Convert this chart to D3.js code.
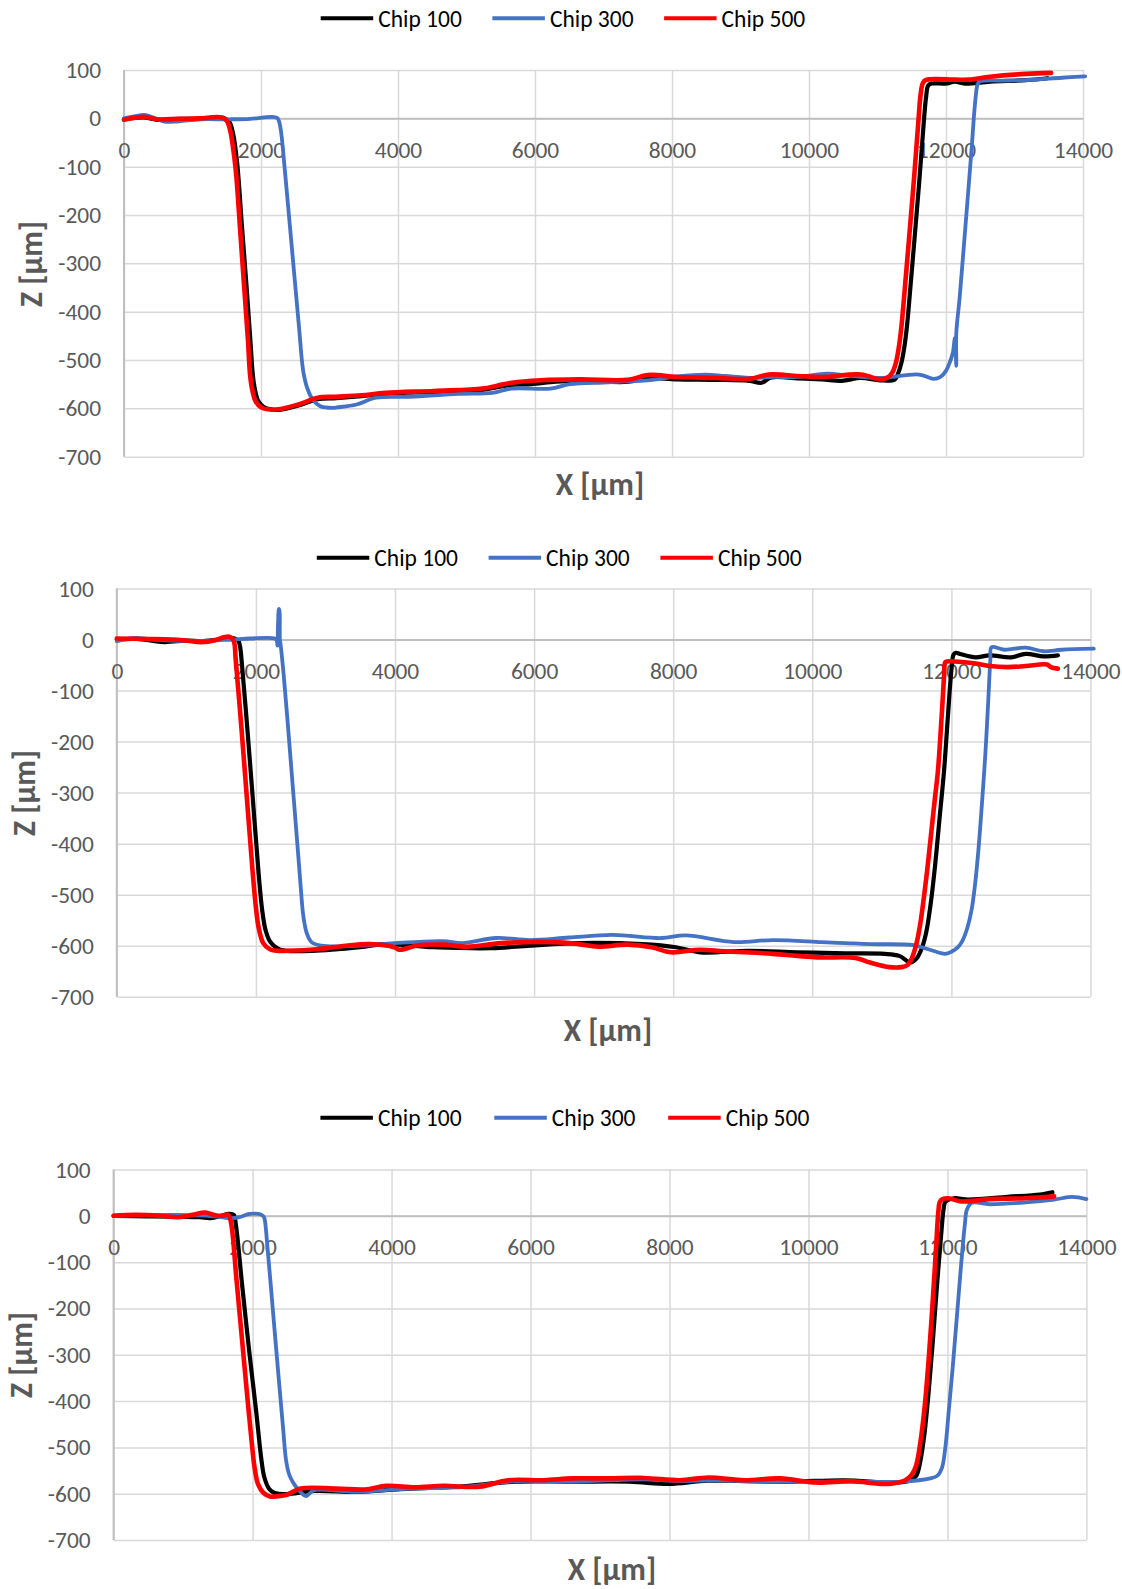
<!DOCTYPE html>
<html>
<head>
<meta charset="utf-8">
<script src="https://cdn.jsdelivr.net/npm/d3@7"></script>
<style>
  body { margin: 0; background: #fff; }
  svg { display: block; }
  text { font-family: Calibri, Carlito, Lato, "Open Sans", sans-serif; }
</style>
</head>
<body>
<svg id="fig" width="1122" height="1589"></svg>
<script>
// Series definitions
const seriesNames = ["Chip 100", "Chip 300", "Chip 500"];
const seriesColors = ["#000000", "#4472C4", "#FF0000"];
const xTicks = [0, 2000, 4000, 6000, 8000, 10000, 12000, 14000];
const yTicks = [100, 0, -100, -200, -300, -400, -500, -600, -700];
const xTitle = "X [µm]";
const yTitle = "Z [µm]";

// Profile 1 — [x µm, z µm]
const p1_chip100 = [[0,-2],[280,2],[480,-3],[800,-1],[1100,-1],[1450,1],[1540,-8],[1590,-30],[1650,-90],[1720,-220],[1790,-350],[1850,-470],[1880,-530],[1910,-560],[1960,-585],[2040,-597],[2150,-602],[2270,-603],[2545,-594],[2828,-581],[3100,-579],[3466,-575],[3820,-570],[4528,-566],[5236,-562],[5450,-556],[5700,-551],[5944,-550],[6300,-545],[6651,-543],[7360,-545],[7643,-537],[8068,-540],[8634,-541],[9130,-543],[9306,-547],[9450,-536],[9838,-538],[10192,-540],[10475,-543],[10758,-537],[11041,-542],[11254,-540],[11300,-528],[11350,-505],[11390,-475],[11430,-430],[11480,-350],[11540,-250],[11610,-130],[11680,0],[11710,45],[11740,68],[11790,72],[12016,72],[12121,76],[12278,72],[12644,76],[13168,79],[13482,83]];
const p1_chip300 = [[0,0],[150,4],[300,7],[420,2],[590,-7],[800,-6],[1113,-2],[1530,-2],[1843,-1],[2156,3],[2234,1],[2260,-5],[2290,-25],[2350,-110],[2420,-220],[2490,-330],[2560,-440],[2600,-505],[2625,-530],[2680,-560],[2760,-583],[2860,-595],[2938,-598],[3050,-599],[3112,-598],[3395,-592],[3678,-578],[4174,-576],[4882,-570],[5377,-568],[5660,-559],[6226,-559],[6510,-550],[7077,-546],[7714,-541],[8068,-534],[8493,-530],[8776,-533],[9200,-537],[9483,-535],[9838,-535],[10263,-528],[10617,-533],[11041,-537],[11607,-530],[11820,-539],[11920,-535],[11997,-523],[12060,-503],[12100,-485],[12130,-455],[12150,-512],[12150,-445],[12200,-370],[12280,-230],[12370,-70],[12430,40],[12461,70],[12490,76],[12906,78],[13168,79],[13692,84],[14032,87]];
const p1_chip500 = [[0,-3],[280,3],[480,-2],[800,-1],[1100,0],[1420,2],[1500,-5],[1550,-25],[1610,-80],[1640,-120],[1700,-240],[1760,-360],[1810,-460],[1840,-530],[1870,-560],[1920,-585],[2000,-598],[2100,-602],[2262,-602],[2545,-592],[2828,-578],[3100,-576],[3466,-573],[3820,-568],[4528,-564],[5236,-559],[5450,-553],[5660,-547],[6085,-542],[6651,-540],[7360,-541],[7643,-531],[8068,-535],[8634,-537],[9130,-539],[9413,-530],[9838,-533],[10192,-535],[10758,-530],[11041,-540],[11150,-536],[11220,-525],[11270,-505],[11310,-475],[11350,-430],[11400,-350],[11460,-250],[11530,-130],[11600,0],[11630,50],[11660,72],[11700,79],[12121,80],[12330,80],[12644,86],[13168,92],[13534,94]];

// Profile 2
const p2_chip100 = [[0,0],[300,1],[682,-5],[1000,-2],[1220,-3],[1450,0],[1650,3],[1740,-1],[1770,-12],[1800,-50],[1880,-180],[1960,-320],[2040,-460],[2090,-530],[2140,-570],[2209,-593],[2349,-608],[2803,-610],[3500,-603],[3849,-597],[4547,-603],[5385,-605],[5944,-600],[6642,-595],[7549,-597],[8038,-603],[8387,-613],[9085,-610],[9783,-613],[10482,-615],[11040,-616],[11250,-620],[11414,-633],[11500,-625],[11560,-610],[11633,-577],[11700,-520],[11760,-450],[11830,-350],[11895,-256],[11950,-150],[12000,-60],[12030,-30],[12062,-26],[12140,-29],[12346,-35],[12552,-31],[12861,-35],[13067,-28],[13325,-33],[13531,-31]];
const p2_chip300 = [[0,-3],[272,3],[528,0],[1144,-3],[1656,0],[1913,2],[2272,2],[2300,-2],[2310,-12],[2318,30],[2330,60],[2340,55],[2345,0],[2355,-10],[2400,-70],[2470,-185],[2540,-305],[2610,-425],[2650,-495],[2680,-540],[2730,-575],[2800,-593],[2942,-600],[3500,-600],[3989,-595],[4687,-591],[4966,-595],[5455,-585],[5944,-589],[6502,-584],[7130,-579],[7828,-585],[8178,-580],[8875,-593],[9434,-589],[10133,-593],[10482,-595],[10831,-597],[11458,-599],[11668,-607],[11909,-616],[12000,-612],[12087,-604],[12160,-590],[12230,-565],[12290,-530],[12340,-480],[12390,-410],[12440,-320],[12490,-220],[12530,-120],[12560,-40],[12578,-15],[12758,-20],[13067,-16],[13325,-23],[13583,-20],[14047,-18]];
const p2_chip500 = [[0,2],[374,1],[785,0],[990,-2],[1220,-5],[1400,-2],[1554,5],[1631,5],[1682,-3],[1710,-40],[1790,-170],[1870,-310],[1950,-450],[2000,-525],[2040,-565],[2105,-595],[2200,-607],[2300,-610],[2454,-610],[2873,-607],[3291,-600],[3640,-597],[3989,-603],[4059,-608],[4338,-599],[4687,-598],[5036,-602],[5525,-595],[6293,-593],[6642,-597],[6921,-602],[7340,-598],[7689,-603],[7968,-613],[8387,-608],[8736,-611],[9434,-616],[9783,-620],[10133,-623],[10622,-624],[10831,-633],[11109,-642],[11284,-642],[11370,-638],[11430,-625],[11490,-600],[11549,-560],[11600,-510],[11652,-452],[11755,-321],[11806,-258],[11860,-150],[11895,-70],[11910,-45],[11935,-43],[12294,-46],[12552,-52],[12810,-54],[13067,-52],[13376,-49],[13428,-54],[13531,-57]];

// Profile 3
const p3_chip100 = [[0,0],[500,-1],[933,-2],[1241,-3],[1395,-5],[1550,0],[1651,4],[1728,2],[1760,-20],[1850,-150],[1950,-290],[2050,-420],[2130,-530],[2170,-565],[2240,-590],[2309,-598],[2484,-601],[2896,-594],[3514,-596],[4132,-590],[4956,-585],[5780,-574],[6604,-574],[7428,-574],[7995,-579],[8561,-572],[9694,-574],[10518,-571],[11239,-576],[11450,-572],[11548,-562],[11610,-530],[11670,-470],[11730,-380],[11790,-270],[11850,-150],[11910,-40],[11945,15],[11970,30],[12093,38],[12299,35],[12866,41],[13330,46],[13511,51]];
const p3_chip300 = [[0,0],[933,2],[1446,-1],[1703,-5],[1805,-3],[1959,4],[2087,4],[2150,0],[2170,-5],[2210,-60],[2290,-200],[2370,-340],[2440,-460],[2484,-530],[2530,-560],[2600,-580],[2700,-598],[2773,-605],[2830,-598],[2896,-592],[3514,-596],[4132,-590],[5059,-585],[5780,-573],[6604,-574],[7634,-569],[8149,-573],[8664,-571],[9179,-574],[9900,-574],[10724,-574],[11342,-574],[11754,-567],[11857,-561],[11920,-545],[11970,-500],[12020,-420],[12080,-320],[12140,-210],[12200,-100],[12250,-20],[12280,13],[12351,28],[12609,25],[13124,29],[13536,35],[13794,41],[14000,36]];
const p3_chip500 = [[0,0],[318,2],[677,0],[933,-3],[1138,2],[1318,7],[1446,2],[1549,0],[1651,2],[1690,-15],[1770,-140],[1850,-270],[1930,-400],[1995,-500],[2030,-545],[2080,-580],[2155,-598],[2250,-606],[2330,-606],[2484,-603],[2690,-589],[3205,-589],[3617,-591],[3926,-583],[4338,-586],[4750,-583],[5265,-585],[5677,-571],[6192,-571],[6604,-567],[7119,-567],[7634,-566],[8149,-571],[8561,-565],[9076,-571],[9591,-567],[10106,-576],[10621,-573],[11136,-579],[11393,-571],[11480,-560],[11548,-540],[11610,-490],[11672,-413],[11730,-310],[11790,-180],[11840,-60],[11870,10],[11890,30],[11930,36],[12016,38],[12196,31],[12609,36],[13124,38],[13536,42]];

// Panel placement on the page
const panels = [
  { series: [p1_chip100, p1_chip300, p1_chip500],
    left: 124, right: 1083, top: 70, bottom: 456.7,
    legendY: 18.3, legendX: 320.7, legendStep: 171.7,
    xTitlePos: [600, 484.5], yTitlePos: [32, 264] },
  { series: [p2_chip100, p2_chip300, p2_chip500],
    left: 116.8, right: 1090.5, top: 588.5, bottom: 996.7,
    legendY: 557.7, legendX: 316.8, legendStep: 171.8,
    xTitlePos: [608, 1031], yTitlePos: [25, 793] },
  { series: [p3_chip100, p3_chip300, p3_chip500],
    left: 113.6, right: 1086.4, top: 1169.5, bottom: 1540,
    legendY: 1117.7, legendX: 320.4, legendStep: 173.9,
    xTitlePos: [612, 1570], yTitlePos: [22, 1355] }
];

const svg = d3.select("#fig");
const widths = [4.2, 3.8, 4.6];
const tickFont = "Calibri, Carlito, Lato, sans-serif";

panels.forEach(p => {
  const g = svg.append("g");
  const x = d3.scaleLinear().domain([0, 14000]).range([p.left, p.right]);
  const y = d3.scaleLinear().domain([-700, 100]).range([p.bottom, p.top]);

  // vertical gridlines
  g.append("g")
    .attr("transform", `translate(0,${p.bottom})`)
    .call(d3.axisBottom(x).tickValues(xTicks).tickSize(-(p.bottom - p.top)).tickFormat(""))
    .call(a => a.select(".domain").remove())
    .call(a => a.selectAll("line").attr("stroke", "#d9d9d9").attr("stroke-width", 1.5));

  // horizontal gridlines + z labels
  g.append("g")
    .attr("transform", `translate(${p.left},0)`)
    .call(d3.axisLeft(y).tickValues(yTicks).tickSize(-(p.right - p.left)).tickPadding(23)
      .tickFormat(d => String(d)))
    .call(a => a.select(".domain").remove())
    .call(a => a.selectAll("line").attr("stroke", "#d9d9d9").attr("stroke-width", 1.5))
    .call(a => a.selectAll("text")
      .attr("fill", "#595959").attr("font-size", 23.4)
      .attr("dy", "0.32em")
      .style("font-family", tickFont));

  // vertical axis line at x = 0
  g.append("line")
    .attr("x1", x(0)).attr("x2", x(0)).attr("y1", p.top).attr("y2", p.bottom)
    .attr("stroke", "#bfbfbf").attr("stroke-width", 2);

  // horizontal axis through z = 0 with x labels
  g.append("g")
    .attr("transform", `translate(0,${y(0)})`)
    .call(d3.axisBottom(x).tickValues(xTicks).tickSize(0).tickSizeOuter(0).tickPadding(23)
      .tickFormat(d => String(d)))
    .call(a => a.select(".domain").attr("stroke", "#bfbfbf").attr("stroke-width", 2))
    .call(a => a.selectAll("text")
      .attr("fill", "#595959").attr("font-size", 23.4)
      .style("font-family", tickFont));

  // profiles
  const line = d3.line()
    .x(d => x(d[0])).y(d => y(d[1]))
    .curve(d3.curveCatmullRom.alpha(0.5));
  p.series.forEach((s, i) => {
    g.append("path")
      .datum(s)
      .attr("d", line)
      .attr("fill", "none")
      .attr("stroke", seriesColors[i])
      .attr("stroke-width", widths[i])
      .attr("stroke-linejoin", "round")
      .attr("stroke-linecap", "round");
  });

  // legend
  const lg = g.append("g");
  seriesNames.forEach((name, i) => {
    const x0 = p.legendX + i * p.legendStep;
    lg.append("line")
      .attr("x1", x0).attr("x2", x0 + 52.5)
      .attr("y1", p.legendY).attr("y2", p.legendY)
      .attr("stroke", seriesColors[i]).attr("stroke-width", 4);
    lg.append("text")
      .attr("x", x0 + 57.5).attr("y", p.legendY + 8.3)
      .attr("font-size", 23.5).attr("fill", "#000")
      .text(name);
  });

  // axis titles
  g.append("text")
    .attr("x", p.xTitlePos[0]).attr("y", p.xTitlePos[1] + 10)
    .attr("text-anchor", "middle").attr("font-size", 31.5).attr("font-weight", "bold")
    .attr("fill", "#595959").text(xTitle);
  g.append("text")
    .attr("transform", `translate(${p.yTitlePos[0]},${p.yTitlePos[1]}) rotate(-90)`)
    .attr("y", 10)
    .attr("text-anchor", "middle").attr("font-size", 31.5).attr("font-weight", "bold")
    .attr("fill", "#595959").text(yTitle);
});
</script>
</body>
</html>
